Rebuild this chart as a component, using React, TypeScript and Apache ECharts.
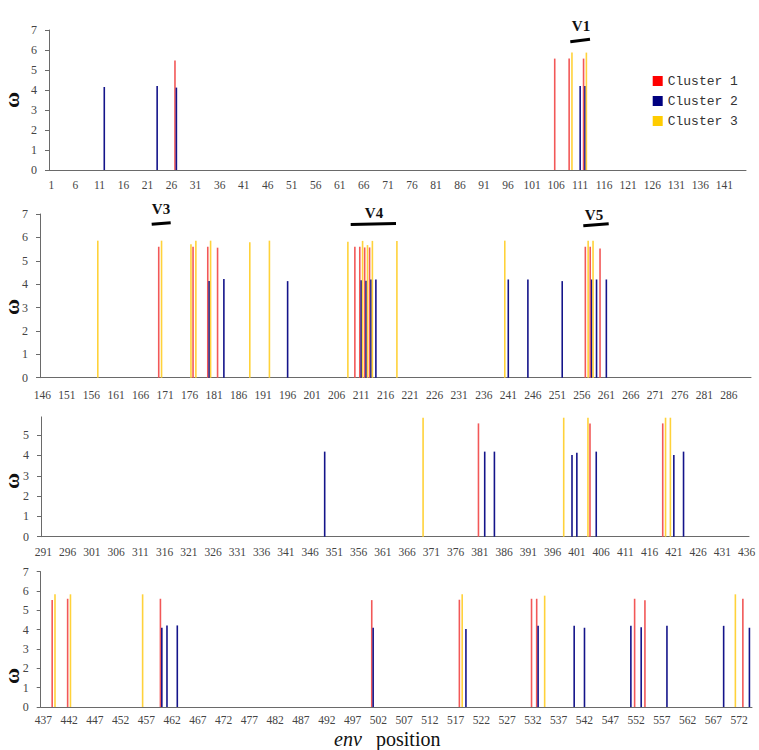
import { useEffect, useRef } from 'react';
import * as echarts from 'echarts';

// env positions shown in each of the four stacked panels
const panelStarts = [1, 146, 291, 437];
const panelCounts = [145, 145, 146, 138];
const panelYMax = [7, 7, 5.9, 7];

// [position, ω] for every site of each cluster
const cluster1: [number, number][] = [
  [27, 5.48], [106, 5.57], [109, 5.57], [112, 5.57],
  [170, 5.6], [177, 5.6], [180, 5.6], [182, 5.56], [210, 5.6], [211, 5.6], [212, 5.57], [213, 5.57],
  [257, 5.6], [258, 5.6], [260, 5.53],
  [381, 5.58], [404, 5.58], [419, 5.58],
  [439, 5.53], [442, 5.6], [460, 5.6], [501, 5.53], [518, 5.55], [532, 5.6], [533, 5.6], [552, 5.6],
  [554, 5.52], [573, 5.6],
];
const cluster2: [number, number][] = [
  [12, 4.15], [23, 4.2], [27, 4.12], [111, 4.2], [112, 4.2],
  [180, 4.13], [183, 4.22], [196, 4.13], [211, 4.17], [212, 4.15], [213, 4.2], [214, 4.2], [241, 4.2],
  [245, 4.2], [252, 4.13], [258, 4.2], [259, 4.2], [261, 4.2],
  [349, 4.19], [382, 4.19], [384, 4.19], [400, 4.02], [401, 4.14], [405, 4.19], [421, 4.02], [423, 4.19],
  [460, 4.1], [461, 4.22], [463, 4.22], [501, 4.1], [519, 4.03], [533, 4.2], [540, 4.2], [542, 4.1],
  [551, 4.2], [553, 4.13], [558, 4.2], [569, 4.2], [574, 4.1],
];
const cluster3: [number, number][] = [
  [109, 5.87], [112, 5.87],
  [157, 5.86], [170, 5.86], [176, 5.71], [177, 5.86], [180, 5.86], [188, 5.79], [192, 5.86], [208, 5.81],
  [211, 5.85], [212, 5.67], [213, 5.85], [218, 5.85], [240, 5.86], [257, 5.86], [258, 5.86],
  [369, 5.86], [398, 5.86], [403, 5.86], [419, 5.86], [420, 5.86],
  [439, 5.83], [442, 5.83], [456, 5.83], [518, 5.83], [534, 5.76], [571, 5.83],
];

const clusterNames = ['Cluster 1', 'Cluster 2', 'Cluster 3'];
const legendColors = ['#ff0000', '#000080', '#ffcc00'];
const barColors = ['#f25858', '#14148a', '#ffd23a'];
const clusters = [cluster1, cluster2, cluster3];

// variable-region markers
const regionNames = ['V1', 'V3', 'V4', 'V5'];

const grids = [
  { left: 49, right: 13, top: 30, height: 140 },
  { left: 40, right: 8, top: 214, height: 163.7 },
  { left: 41, right: 10, top: 416.9, height: 119.8 },
  { left: 40.7, right: 7, top: 571.7, height: 135.3 },
];
const xLabelMargins = [9, 11, 9, 7];

const serif = '"Liberation Serif", "Times New Roman", serif';
const axisColor = '#6a6a6a';

function denseSeries(points: [number, number][], start: number, count: number) {
  const out: (number | string)[] = new Array(count).fill('-');
  for (const [pos, v] of points) {
    const i = pos - start;
    if (i >= 0 && i < count) out[i] = v;
  }
  return out;
}

export default function App() {
  const ref = useRef<HTMLDivElement>(null);

  useEffect(() => {
    if (!ref.current) return;
    const chart = echarts.init(ref.current, null, { renderer: 'svg' });

    const xAxis = panelStarts.map((s, p) => ({
      type: 'category',
      gridIndex: p,
      data: Array.from({ length: panelCounts[p] }, (_, i) => String(s + i)),
      boundaryGap: true,
      axisLine: { lineStyle: { color: axisColor, width: 1 } },
      axisTick: { interval: 4, length: 4, lineStyle: { color: axisColor } },
      axisLabel: {
        interval: 4,
        margin: xLabelMargins[p],
        color: '#444',
        fontFamily: serif,
        fontSize: 11.5,
      },
      splitLine: { show: false },
    }));

    const yAxis = panelYMax.map((m, p) => ({
      type: 'value',
      gridIndex: p,
      min: 0,
      max: m,
      interval: 1,
      axisLine: { show: true, lineStyle: { color: axisColor, width: 1 } },
      axisTick: { show: true, length: 4, lineStyle: { color: axisColor } },
      axisLabel: {
        margin: 12,
        color: '#444',
        fontFamily: serif,
        fontSize: 12,
        showMaxLabel: Number.isInteger(m),
      },
      splitLine: { show: false },
    }));

    const series: any[] = [];
    clusters.forEach((pts, ci) => {
      panelStarts.forEach((s, p) => {
        series.push({
          type: 'bar',
          name: clusterNames[ci],
          xAxisIndex: p,
          yAxisIndex: p,
          data: denseSeries(pts, s, panelCounts[p]),
          barWidth: 1.6,
          barGap: '-12%',
          itemStyle: { color: barColors[ci] },
          emphasis: { disabled: true },
        });
      });
    });

    const omegaY = [100, 307, 481, 676];
    const omegas = omegaY.map((y) => ({
      type: 'text',
      x: 11,
      y,
      rotation: Math.PI / 2,
      style: {
        text: 'ω',
        font: `bold 22px ${serif}`,
        fill: '#111',
        textAlign: 'center',
        textVerticalAlign: 'middle',
      },
    }));

    const regionLabelPos = [
      [581, 26],
      [161, 209],
      [374, 212.5],
      [594, 215],
    ];
    const regionLines = [
      [570.3, 41.7, 590, 39.3],
      [151.7, 224.3, 170.7, 222.7],
      [350.7, 224.5, 396, 223.5],
      [583.3, 225.7, 608.7, 223.7],
    ];
    const regions: any[] = [];
    regionNames.forEach((name, i) => {
      regions.push({
        type: 'text',
        x: regionLabelPos[i][0],
        y: regionLabelPos[i][1],
        style: {
          text: name,
          font: `bold 15px ${serif}`,
          fill: '#111',
          textAlign: 'center',
          textVerticalAlign: 'middle',
        },
      });
      const [x1, y1, x2, y2] = regionLines[i];
      regions.push({
        type: 'line',
        shape: { x1, y1, x2, y2 },
        style: { stroke: '#000', lineWidth: 3 },
      });
    });

    const titles = [
      {
        type: 'text',
        x: 334,
        y: 738.5,
        style: {
          text: 'env',
          font: `italic 20px ${serif}`,
          fill: '#111',
          textAlign: 'left',
          textVerticalAlign: 'middle',
        },
      },
      {
        type: 'text',
        x: 376,
        y: 738.5,
        style: {
          text: 'position',
          font: `20px ${serif}`,
          fill: '#111',
          textAlign: 'left',
          textVerticalAlign: 'middle',
        },
      },
    ];

    chart.setOption({
      animation: false,
      backgroundColor: '#ffffff',
      grid: grids,
      xAxis,
      yAxis,
      legend: {
        data: clusterNames.map((name, i) => ({ name, itemStyle: { color: legendColors[i] } })),
        orient: 'vertical',
        left: 652.7,
        top: 74.5,
        padding: 0,
        itemWidth: 10,
        itemHeight: 10,
        itemGap: 7,
        icon: 'rect',
        selectedMode: false,
        textStyle: {
          fontFamily: '"Liberation Mono", "DejaVu Sans Mono", monospace',
          fontSize: 13,
          color: '#333',
        },
      },
      series,
      graphic: [...omegas, ...regions, ...titles],
    });

    return () => chart.dispose();
  }, []);

  return (
    <div
      ref={ref}
      style={{ position: 'absolute', left: 0, top: 0, width: 759, height: 750, background: '#fff' }}
    />
  );
}
